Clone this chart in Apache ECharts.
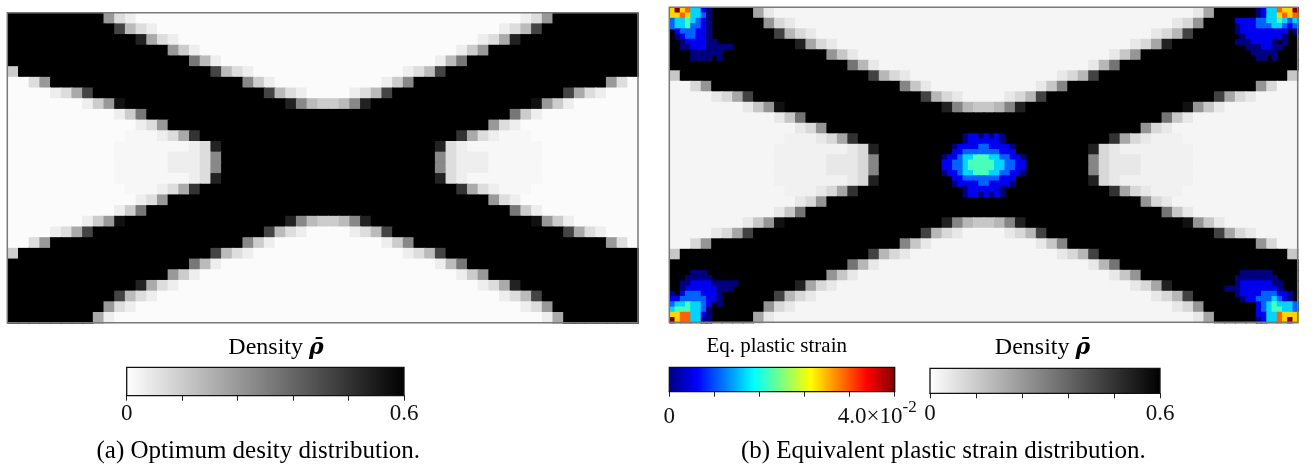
<!DOCTYPE html>
<html>
<head>
<meta charset="utf-8">
<script src="https://cdn.jsdelivr.net/npm/echarts@6/dist/echarts.min.js"></script>
<style>
  html, body { margin: 0; padding: 0; background: #ffffff; }
  #chart { width: 1315px; height: 465px; }
</style>
</head>
<body>
<div id="chart"></div>
<script>
// Element densities of the optimised layout, one string per element row (top to bottom),
// written in groups of ten elements. '.' void, ',' near-void, hex digit h -> 0.04*h, '#' solid.
const densityRows = [
  "########51 .......... .......... .......... .......... 15########",
  "#########6 21........ .......... .......... ........12 6#########",
  "########## b421...... .......... .......... ......124b ##########",
  "########## ##d521.... .......... .......... ....125d## ##########",
  "########## #####631.. .......... .......... ..136##### ##########",
  "########## #######841 .......... .......... 148####### ##########",
  "3######### #########b 421....... .......124 b######### #########3",
  "..26###### ########## ##731..... .....137## ########## ######62..",
  "....125b## ########## ####b421.. ..124b#### ########## ##b521....",
  ".......136 e######### ######d743 347d###### #########e 631.......",
  ".......... 138####### ########## ########## #######831 ..........",
  ".......... ..126##### ########## ########## #####621.. ..........",
  ".......... .,,,125c## ########## ########## ##c521,,,. ..........",
  ".......... ,,,,,,,12d ########## ########## d21,,,,,,, ..........",
  ".......... ,,,,,11127 ########## ########## 72111,,,,, ..........",
  ".......... ,,,,,11127 ########## ########## 72111,,,,, ..........",
  ".......... ,,,,,,,12d ########## ########## d21,,,,,,, ..........",
  ".......... .,,,125c## ########## ########## ##c521,,,. ..........",
  ".......... ..126##### ########## ########## #####621.. ..........",
  ".......... 138####### ########## ########## #######831 ..........",
  ".......136 e######### ######d743 347d###### #########e 631.......",
  "....125b## ########## ####b421.. ..124b#### ########## ##b521....",
  "..26###### ########## ##731..... .....137## ########## ######62..",
  "3######### #########b 421....... .......124 b######### #########3",
  "########## #######841 .......... .......... 148####### ##########",
  "########## #####631.. .......... .......... ..136##### ##########",
  "########## ##d521.... .......... .......... ....125d## ##########",
  "########## b421...... .......... .......... ......124b ##########",
  "#########6 21........ .......... .......... ........12 6#########",
  "########51 .......... .......... .......... .......... 15########"
];
const densityCode = { '.': 0.01, ',': 0.02, '#': 1.0 };
const densityStep = 0.04;

// Panel (a) shows element rows 1..29 and columns 0..58 of the same layout.
const panelARows = [1, 29];
const panelACols = [0, 58];

// Equivalent plastic strain on the integration-point grid (2x2 per element, 120 x 60).
// Digit d -> d/9 of the colour-bar maximum, '.' no plastic strain.
const strainTopLeft = [
  "69673310.....",
  "66763320.....",
  "23343210.....",
  "23342210.....",
  ".1222110.....",
  ".0122110.....",
  "..0111100....",
  "..0011100000.",
  "....000000...",
  "....0000.0..."
];
const strainTopLeftAt = [0, 0];

const strainTopRight = [
  ".....01337669",
  ".....01336767",
  ".111122334323",
  ".011122233212",
  ".0111111111.0",
  "..011111110..",
  ".00011110.0..",
  "...0001100...",
  "....00000....",
  ".....00.0...."
];
const strainTopRightAt = [107, 0];

const strainBottomLeft = [
  "....000......",
  "...00000.....",
  "..00111100000",
  "..0111111000.",
  "0.12221110...",
  "1122222110...",
  "23343321.0...",
  "34443320.....",
  "66773310.....",
  "96773300....."
];
const strainBottomLeftAt = [0, 50];

const strainBottomRight = [
  "...000000.....",
  "..00000000....",
  "..011111100...",
  "00011111110...",
  "..01111222110.",
  "...0112223210.",
  "......12343332",
  "......12344332",
  "......11337666",
  "......01337696"
];
const strainBottomRightAt = [106, 50];

const strainCenter = [
  "....01101010....",
  "....01111110....",
  "..011112211110..",
  "..112222222111..",
  "0112334443322110",
  "1122344444332211",
  "1122344444332211",
  "0112334443322110",
  "..112222222111..",
  "..011112211110..",
  "....01111110....",
  "....01101010...."
];
const strainCenterAt = [52, 24];

const strainMax = 0.04;
const densityMax = 0.6;

const densityTickLabels = ['0', '0.6'];
const strainTickLabels = ['0', '4.0×10^-2'];
const densityTitle = ['Density ', 'ρ̄'];
const strainTitle = 'Eq. plastic strain';
const captions = ['(a) Optimum desity distribution.', '(b) Equivalent plastic strain distribution.'];

// ---------------------------------------------------------------- layout
const FONT = '"Liberation Serif", "Times New Roman", serif';
const panelA = { left: 7.3, top: 12.7, width: 630.7, height: 310 };
const panelB = { left: 669.3, top: 7.3, width: 628.4, height: 315 };
const barA = { left: 126.7, top: 367.3, width: 277.3, height: 28.4 };
const barStrain = { left: 669.3, top: 367.3, width: 225.4, height: 24.4 };
const barB = { left: 930, top: 368.3, width: 230, height: 25 };

const grayStops = [{ offset: 0, color: '#ffffff' }, { offset: 1, color: '#000000' }];
const jetColors = ['#00007f', '#0000ff', '#007fff', '#00ffff', '#7fff7f', '#ffff00', '#ff7f00', '#ff0000', '#7f0000'];
const jetStops = jetColors.map((c, i) => ({ offset: i / (jetColors.length - 1), color: c }));

// ---------------------------------------------------------------- data → cells
function densityValue(ch) {
  if (ch in densityCode) return densityCode[ch];
  return parseInt(ch, 16) * densityStep;
}
const densityGrid = densityRows.map(r => r.replace(/ /g, ''));
const nRows = densityGrid.length;
const nCols = densityGrid[0].length;

function densityCells(rowFrom, rowTo, colFrom, colTo) {
  const out = [];
  for (let r = rowFrom; r <= rowTo; r++) {
    for (let c = colFrom; c <= colTo; c++) {
      out.push([c - colFrom, r - rowFrom, densityValue(densityGrid[r][c])]);
    }
  }
  return out;
}
function strainCells(block, at) {
  const out = [];
  block.forEach((line, j) => {
    for (let k = 0; k < line.length; k++) {
      const ch = line[k];
      if (ch === '.') continue;
      out.push([at[0] + k, at[1] + j, Number(ch) / 9 * strainMax]);
    }
  });
  return out;
}
const cellsA = densityCells(panelARows[0], panelARows[1], panelACols[0], panelACols[1]);
const cellsB = densityCells(0, nRows - 1, 0, nCols - 1);
const cellsStrain = [].concat(
  strainCells(strainTopLeft, strainTopLeftAt),
  strainCells(strainTopRight, strainTopRightAt),
  strainCells(strainBottomLeft, strainBottomLeftAt),
  strainCells(strainBottomRight, strainBottomRightAt),
  strainCells(strainCenter, strainCenterAt)
);

const seq = n => Array.from({ length: n }, (_, i) => String(i));
const gridOf = b => ({ left: b.left, top: b.top, width: b.width, height: b.height, outerBoundsMode: 'none', containLabel: false });
const hiddenCat = (gi, n, inverse) => ({ gridIndex: gi, type: 'category', data: seq(n), show: false, inverse: !!inverse, boundaryGap: true });

function barAxis(gi, max, interval, margin, formatter, rich) {
  return {
    gridIndex: gi, type: 'value', min: 0, max: max, interval: interval,
    axisLine: { show: true, onZero: false, lineStyle: { color: '#111', width: 1.2 } },
    axisTick: { show: true, inside: false, length: 5, lineStyle: { color: '#222', width: 1 } },
    splitLine: { show: false },
    axisLabel: { show: true, margin: margin, color: '#111', fontFamily: FONT, fontSize: 23, formatter: formatter, rich: rich }
  };
}
const near = (a, b) => Math.abs(a - b) < 1e-9;
const densityFormatter = v => near(v, 0) ? densityTickLabels[0] : (near(v, densityMax) ? densityTickLabels[1] : '');
const strainParts = strainTickLabels[1].split('^');
const strainRich = {
  b: { fontFamily: FONT, fontSize: 23, color: '#111', lineHeight: 30, verticalAlign: 'bottom' },
  s: { fontFamily: FONT, fontSize: 17, color: '#111', verticalAlign: 'top', padding: [0, 35, 0, 0] }
};
const strainFormatter = v => near(v, 0) ? '{b|' + strainTickLabels[0] + '}'
  : (near(v, strainMax) ? '{b|' + strainParts[0] + '}{s|' + strainParts[1] + '}' : '');

// One filled cell per element / integration point, placed by the category axes.
// A pixel of overlap on the right/bottom edge keeps neighbouring cells seamless.
function cellItem(params, api) {
  const p = api.coord([api.value(0), api.value(1)]);
  const s = api.size([1, 1]);
  return {
    type: 'rect',
    shape: { x: p[0] - s[0] / 2, y: p[1] - s[1] / 2, width: s[0] + 1, height: s[1] + 1 },
    style: { fill: api.visual('color') }
  };
}
const cellSeries = (xi, yi, data) => ({
  type: 'custom', xAxisIndex: xi, yAxisIndex: yi, data: data, renderItem: cellItem,
  encode: { x: 0, y: 1 }, dimensions: ['col', 'row', 'value'],
  silent: true, clip: false, progressive: 0
});

function borderRect(b) {
  return { type: 'rect', z: 100, silent: true,
    shape: { x: b.left, y: b.top, width: b.width, height: b.height },
    style: { fill: 'none', stroke: '#7a7a7a', lineWidth: 1.5 } };
}
function barRect(b, stops) {
  return { type: 'rect', z: 50, silent: true,
    shape: { x: b.left, y: b.top, width: b.width, height: b.height },
    style: { fill: { type: 'linear', x: 0, y: 0, x2: 1, y2: 0, colorStops: stops }, stroke: '#111', lineWidth: 1.3 } };
}
function label(x, y, text, size, rich) {
  return { type: 'text', z: 60, silent: true, x: x, y: y,
    style: { text: text, rich: rich, fontFamily: FONT, fontSize: size, fill: '#000', align: 'center', verticalAlign: 'middle' } };
}
const titleRich = {
  n: { fontFamily: FONT, fontSize: 24, color: '#000' },
  r: { fontFamily: '"DejaVu Serif", serif', fontSize: 22, color: '#000', fontWeight: 'bold', fontStyle: 'italic' }
};
const densityTitleText = '{n|' + densityTitle[0] + '}{r|' + densityTitle[1] + '}';

const option = {
  animation: false,
  backgroundColor: '#ffffff',
  grid: [gridOf(panelA), gridOf(panelB), gridOf(panelB), gridOf(barA), gridOf(barStrain), gridOf(barB)],
  xAxis: [
    hiddenCat(0, panelACols[1] - panelACols[0] + 1),
    hiddenCat(1, nCols),
    hiddenCat(2, nCols * 2),
    barAxis(3, densityMax, 0.12, 6.7, densityFormatter),
    barAxis(4, strainMax, 0.008, 7.2, strainFormatter, strainRich),
    barAxis(5, densityMax, 0.12, 9.1, densityFormatter)
  ],
  yAxis: [
    hiddenCat(0, panelARows[1] - panelARows[0] + 1, true),
    hiddenCat(1, nRows, true),
    hiddenCat(2, nRows * 2, true),
    { gridIndex: 3, type: 'value', show: false },
    { gridIndex: 4, type: 'value', show: false },
    { gridIndex: 5, type: 'value', show: false }
  ],
  visualMap: [
    { type: 'continuous', show: false, seriesIndex: 0, dimension: 2, min: 0, max: densityMax, inRange: { color: ['#ffffff', '#000000'] } },
    { type: 'continuous', show: false, seriesIndex: 1, dimension: 2, min: 0, max: densityMax, inRange: { color: ['#f9f9f9', '#000000'] } },
    { type: 'continuous', show: false, seriesIndex: 2, dimension: 2, min: 0, max: strainMax, inRange: { color: jetColors } }
  ],
  series: [cellSeries(0, 0, cellsA), cellSeries(1, 1, cellsB), cellSeries(2, 2, cellsStrain)],
  graphic: { elements: [
    borderRect(panelA), borderRect(panelB),
    barRect(barA, grayStops), barRect(barStrain, jetStops), barRect(barB, grayStops),
    label(276, 347.9, densityTitleText, 24, titleRich),
    label(1042.5, 347.9, densityTitleText, 24, titleRich),
    label(776.7, 346.2, strainTitle, 21),
    label(258.3, 451.6, captions[0], 25),
    label(943.3, 451.6, captions[1], 25)
  ] }
};

const chart = echarts.init(document.getElementById('chart'), null, { renderer: 'canvas' });
chart.setOption(option);
</script>
</body>
</html>
